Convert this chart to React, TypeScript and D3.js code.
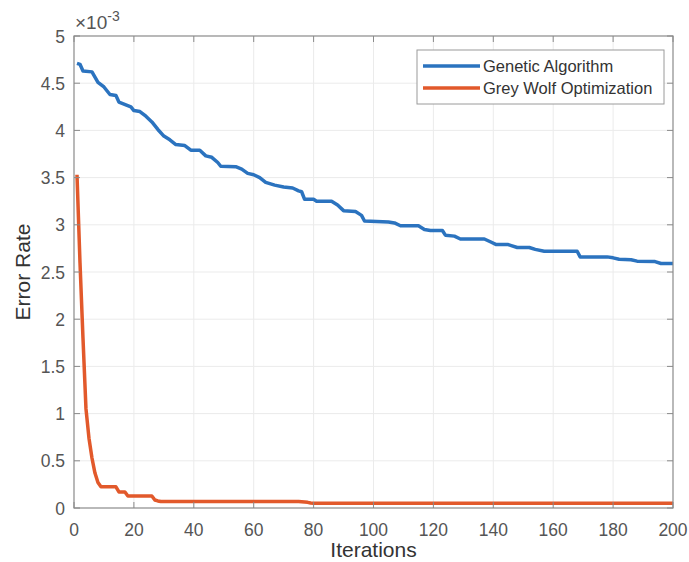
// line chart of GA vs GWO error rate per iteration
import { useEffect, useRef } from 'react';
import * as d3 from 'd3';

// values in units of 1e-3
const gaIters = [1, 2, 3, 6, 8, 10, 12, 14, 15, 19, 20, 22, 24, 26, 28, 30, 32, 34, 37, 39, 42, 44, 46, 48, 49, 54, 56, 58, 60, 62, 64, 67, 70, 73, 75, 76, 77, 80, 81, 86, 88, 90, 94, 96, 97, 105, 107, 109, 115, 117, 119, 123, 124, 127, 129, 137, 139, 141, 145, 146, 148, 152, 154, 157, 168, 169, 178, 180, 182, 186, 188, 194, 196, 200];
const gaValues = [4.71, 4.70, 4.63, 4.62, 4.51, 4.46, 4.38, 4.37, 4.30, 4.25, 4.21, 4.20, 4.15, 4.09, 4.01, 3.94, 3.90, 3.85, 3.84, 3.79, 3.79, 3.73, 3.715, 3.66, 3.62, 3.615, 3.59, 3.545, 3.53, 3.50, 3.45, 3.42, 3.40, 3.39, 3.36, 3.35, 3.27, 3.27, 3.25, 3.25, 3.21, 3.15, 3.14, 3.10, 3.04, 3.03, 3.02, 2.99, 2.99, 2.95, 2.94, 2.94, 2.89, 2.88, 2.85, 2.85, 2.82, 2.79, 2.79, 2.78, 2.76, 2.76, 2.74, 2.72, 2.72, 2.66, 2.66, 2.65, 2.635, 2.63, 2.615, 2.61, 2.59, 2.59];

const gwoIters = [1, 2, 3, 4, 5, 6, 7, 8, 9, 14, 15, 17, 18, 26, 27, 28, 29, 75, 76, 78, 79, 80, 200];
const gwoValues = [3.53, 2.6, 1.8, 1.05, 0.74, 0.53, 0.37, 0.27, 0.225, 0.225, 0.17, 0.17, 0.127, 0.127, 0.085, 0.075, 0.068, 0.068, 0.065, 0.06, 0.053, 0.05, 0.05];

const xTicks = [0, 20, 40, 60, 80, 100, 120, 140, 160, 180, 200];
const yTicks = [0, 0.5, 1, 1.5, 2, 2.5, 3, 3.5, 4, 4.5, 5];
const seriesNames = ['Genetic Algorithm', 'Grey Wolf Optimization'];
const seriesColors = ['#2b73bf', '#e2592b'];

const FONT = '"Liberation Sans", Arial, Helvetica, sans-serif';

const useD3 = (renderChartFn: (svg: any) => void, deps: any[]) => {
  const ref = useRef<SVGSVGElement>(null);
  useEffect(() => {
    const svg = d3.select(ref.current);
    svg.selectAll('*').remove();
    renderChartFn(svg);
  }, deps);
  return ref;
};

function ErrorChart() {
  const ref = useD3((svg) => {
    const width = 689;
    const height = 562;
    const left = 74, right = 673, top = 36, bottom = 508;

    const x = d3.scaleLinear().domain([0, 200]).range([left, right]);
    const y = d3.scaleLinear().domain([0, 5]).range([bottom, top]);

    svg.append('rect').attr('width', width).attr('height', height).attr('fill', '#fff');

    // grid
    const grid = svg.append('g');
    grid.selectAll('.gx').data(xTicks.slice(1, -1)).join('line')
      .attr('x1', (d: number) => x(d)).attr('x2', (d: number) => x(d))
      .attr('y1', top).attr('y2', bottom)
      .attr('stroke', '#ebebeb').attr('stroke-width', 1);
    grid.selectAll('.gy').data(yTicks.slice(1, -1)).join('line')
      .attr('y1', (d: number) => y(d)).attr('y2', (d: number) => y(d))
      .attr('x1', left).attr('x2', right)
      .attr('stroke', '#ebebeb').attr('stroke-width', 1);

    // lines
    const line = d3.line<[number, number]>()
      .x((d) => x(d[0]))
      .y((d) => y(d[1]));
    const series = [
      gaIters.map((it, i) => [it, gaValues[i]] as [number, number]),
      gwoIters.map((it, i) => [it, gwoValues[i]] as [number, number]),
    ];
    series.forEach((s, i) => {
      svg.append('path')
        .datum(s)
        .attr('d', line)
        .attr('fill', 'none')
        .attr('stroke', seriesColors[i])
        .attr('stroke-width', 3.5)
        .attr('stroke-linejoin', 'round');
    });

    // box and ticks
    const axisColor = '#8a8a8a';
    svg.append('rect')
      .attr('x', left).attr('y', top)
      .attr('width', right - left).attr('height', bottom - top)
      .attr('fill', 'none').attr('stroke', axisColor).attr('stroke-width', 1.2);
    const tl = 6;
    xTicks.forEach((t) => {
      svg.append('line').attr('x1', x(t)).attr('x2', x(t)).attr('y1', bottom).attr('y2', bottom - tl).attr('stroke', axisColor);
      svg.append('line').attr('x1', x(t)).attr('x2', x(t)).attr('y1', top).attr('y2', top + tl).attr('stroke', axisColor);
    });
    yTicks.forEach((t) => {
      svg.append('line').attr('y1', y(t)).attr('y2', y(t)).attr('x1', left).attr('x2', left + tl).attr('stroke', axisColor);
      svg.append('line').attr('y1', y(t)).attr('y2', y(t)).attr('x1', right).attr('x2', right - tl).attr('stroke', axisColor);
    });

    // tick labels
    const labelColor = '#555';
    svg.selectAll('.xl').data(xTicks).join('text')
      .attr('x', (d: number) => x(d)).attr('y', bottom + 27.5)
      .attr('text-anchor', 'middle')
      .style('font-family', FONT).style('font-size', '17.5px').attr('fill', labelColor)
      .text((d: number) => d);
    svg.selectAll('.yl').data(yTicks).join('text')
      .attr('x', left - 9).attr('y', (d: number) => y(d) + 6.5)
      .attr('text-anchor', 'end')
      .style('font-family', FONT).style('font-size', '17.5px').attr('fill', labelColor)
      .text((d: number) => d);

    // exponent
    const ex = svg.append('text').attr('x', left + 1).attr('y', 29)
      .style('font-family', FONT).style('font-size', '19px').attr('fill', labelColor);
    ex.append('tspan').text('\u00d710');
    ex.append('tspan').attr('dy', -8).style('font-size', '14px').text('-3');

    // axis titles
    svg.append('text')
      .attr('x', (left + right) / 2).attr('y', 557)
      .attr('text-anchor', 'middle')
      .style('font-family', FONT).style('font-size', '21px').attr('fill', '#333')
      .text('Iterations');
    svg.append('text')
      .attr('transform', 'translate(30,' + (top + bottom) / 2 + ') rotate(-90)')
      .attr('text-anchor', 'middle')
      .style('font-family', FONT).style('font-size', '21px').attr('fill', '#333')
      .text('Error Rate');

    // legend
    const lg = svg.append('g').attr('transform', 'translate(417,50)');
    lg.append('rect').attr('width', 247).attr('height', 54)
      .attr('fill', '#fff').attr('stroke', '#9a9a9a').attr('stroke-width', 1);
    seriesNames.forEach((name, i) => {
      const yy = 16 + i * 22;
      lg.append('line').attr('x1', 6).attr('x2', 63).attr('y1', yy).attr('y2', yy)
        .attr('stroke', seriesColors[i]).attr('stroke-width', 3.5);
      lg.append('text').attr('x', 66).attr('y', yy + 6)
        .style('font-family', FONT).style('font-size', '16.5px').attr('fill', '#333')
        .text(name);
    });
  }, []);

  return (
    <svg ref={ref} width={689} height={562}
      style={{ position: 'absolute', left: 0, top: 0 }} />
  );
}

export default function App() {
  return <ErrorChart />;
}
